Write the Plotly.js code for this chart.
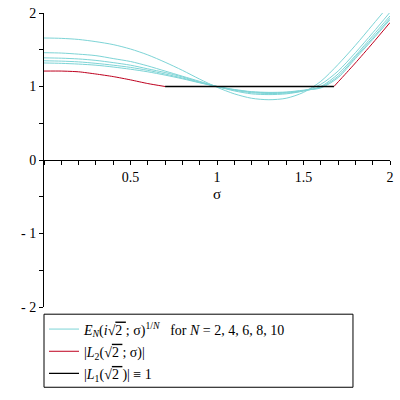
<!DOCTYPE html>
<html>
<head>
<meta charset="utf-8">
<script src="https://cdn.plot.ly/plotly-3.0.1.min.js"></script>
<style>
  body { margin: 0; background: white; }
  #plot { width: 400px; height: 400px; }
</style>
</head>
<body>
<div id="plot"></div>
<script>
// sigma grid for the E_N curves
var sigma = [0, 0.1, 0.2, 0.3, 0.4, 0.5, 0.6, 0.7, 0.8, 0.9, 1.0,
             1.1, 1.2, 1.3, 1.4, 1.5, 1.6, 1.7, 1.8, 1.9, 2.0];

// E_N(i*sqrt2; sigma)^(1/N)
var e2  = [1.66, 1.655, 1.64, 1.61, 1.57, 1.51, 1.43, 1.33, 1.22, 1.10, 0.99,
           0.90, 0.84, 0.82, 0.84, 0.92, 1.07, 1.30, 1.56, 1.84, 2.12];
var e4  = [1.46, 1.455, 1.44, 1.42, 1.38, 1.34, 1.28, 1.21, 1.14, 1.07, 1.00,
           0.94, 0.90, 0.89, 0.90, 0.94, 1.03, 1.21, 1.46, 1.73, 2.01];
var e6  = [1.39, 1.385, 1.375, 1.355, 1.325, 1.29, 1.24, 1.19, 1.13, 1.06, 1.00,
           0.95, 0.915, 0.905, 0.91, 0.94, 1.00, 1.17, 1.42, 1.69, 1.96];
var e8  = [1.35, 1.345, 1.335, 1.315, 1.29, 1.26, 1.22, 1.17, 1.115, 1.055, 1.00,
           0.955, 0.925, 0.915, 0.92, 0.945, 0.99, 1.14, 1.40, 1.66, 1.93];
var e10 = [1.32, 1.315, 1.305, 1.29, 1.265, 1.235, 1.20, 1.155, 1.105, 1.05, 1.00,
           0.96, 0.93, 0.92, 0.925, 0.95, 0.98, 1.12, 1.38, 1.64, 1.91];

// |L2(sqrt2; sigma)|, two visible pieces (the middle lies under L1)
var l2Sigma = [0, 0.1, 0.2, 0.3, 0.4, 0.5, 0.6, 0.7, null, 1.676, 1.75, 1.8, 1.9, 2.0];
var l2Vals  = [1.21, 1.21, 1.20, 1.17, 1.135, 1.09, 1.04, 1.0, null, 1.0, 1.19, 1.32, 1.59, 1.87];

// |L1(sqrt2)| == 1
var l1Sigma = [0.7, 1.676];
var l1Vals  = [1, 1];

var xTicks = [0.5, 1, 1.5, 2];
var yTicks = [-2, -1, 0, 1, 2];
var yTickText = ["- 2", "- 1", "0", "1", "2"];

var cyan = "rgb(125,212,214)";
var serif = "Liberation Serif";
var root2 = "√<span style='text-decoration:overline'>2 </span>";

var eSeries = [e2, e4, e6, e8, e10];
var data = eSeries.map(function (ys, i) {
    return {
        x: sigma,
        y: ys,
        mode: "lines",
        line: { color: cyan, width: 1, shape: "spline", smoothing: 0.8 },
        name: "<i>E</i><sub><i>N</i></sub>(<i>i</i>" + root2 + "; σ)<sup>1/<i>N</i></sup>   for <i>N</i> = 2, 4, 6, 8, 10",
        legendgroup: "e",
        showlegend: i === 0,
    };
});

data.push({
    x: l2Sigma,
    y: l2Vals,
    mode: "lines",
    connectgaps: false,
    line: { color: "rgb(190,0,30)", width: 1, shape: "spline", smoothing: 0.6 },
    name: "|<i>L</i><sub>2</sub>(" + root2 + "; σ)|",
});

data.push({
    x: l1Sigma,
    y: l1Vals,
    mode: "lines",
    line: { color: "black", width: 1.3 },
    name: "|<i>L</i><sub>1</sub>(" + root2 + ")| ≡ 1",
});

var layout = {
    width: 400,
    height: 400,
    font: { family: serif, size: 13, color: "black" },
    margin: { l: 44, r: 10, t: 13, b: 93, pad: 0 },
    paper_bgcolor: "white",
    plot_bgcolor: "white",
    showlegend: true,
    xaxis: {
        range: [0, 2],
        anchor: "free",
        position: 0.5,
        showgrid: false,
        zeroline: false,
        showline: true,
        linecolor: "black",
        linewidth: 1,
        tickmode: "array",
        tickvals: xTicks,
        ticks: "outside",
        ticklen: 4,
        tickcolor: "black",
        minor: { dtick: 0.1, ticks: "outside", ticklen: 4, tickcolor: "black" },
        title: { text: "σ", standoff: 4, font: { family: serif, size: 15 } },
        tickfont: { family: serif, size: 14 },
    },
    yaxis: {
        range: [-2, 2],
        showgrid: false,
        zeroline: false,
        showline: true,
        linecolor: "black",
        linewidth: 1,
        tickmode: "array",
        tickvals: yTicks,
        ticktext: yTickText,
        ticks: "outside",
        ticklen: 4,
        tickcolor: "black",
        minor: { dtick: 0.5, ticks: "outside", ticklen: 4, tickcolor: "black" },
        tickfont: { family: serif, size: 14 },
    },
    legend: {
        x: 0,
        xanchor: "left",
        y: -0.022,
        yanchor: "top",
        borderwidth: 0,
        bgcolor: "rgba(0,0,0,0)",
        font: { family: serif, size: 14 },
        traceorder: "grouped",
        tracegroupgap: 1,
    },
    // legend frame, wider than the entries as in the reference
    shapes: [{
        type: "rect",
        xref: "paper",
        yref: "paper",
        x0: 0,
        x1: 0.893,
        y0: -0.0245,
        y1: -0.273,
        line: { color: "black", width: 1 },
        fillcolor: "rgba(0,0,0,0)",
    }],
};

Plotly.newPlot("plot", data, layout, { displayModeBar: false, staticPlot: true });
</script>
</body>
</html>
